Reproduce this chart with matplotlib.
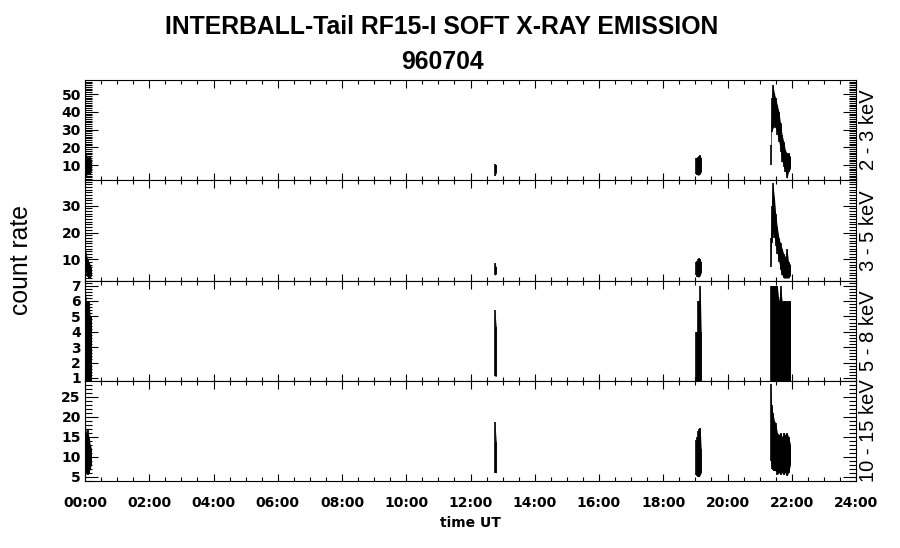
"""INTERBALL-Tail RF15-I soft X-ray count rates, 1996-07-04."""

from __future__ import annotations

import matplotlib

matplotlib.use("Agg")
from matplotlib import pyplot as plt
from matplotlib.ticker import FuncFormatter, MultipleLocator

BAND_LABELS = ["2 - 3 keV", "3 - 5 keV", "5 - 8 keV", "10 - 15 keV"]
Y_LIMITS = [(1.55, 57.9), (1.9, 39.6), (0.8, 7.3), (3.9, 28.9)]
Y_MAJOR = [10, 10, 1, 5]
Y_MINOR = [1, 1, 0.2, 1]

# time UT (hours) of the four bursts of data
t_start = [0.00, 0.04, 0.08, 0.12, 0.16, 0.20]
t_spike = [12.76, 12.80]
t_mid = [19.03, 19.06, 19.09, 19.12, 19.15, 19.18]
t_late = [21.34, 21.37, 21.41, 21.46, 21.50, 21.55, 21.60,
          21.65, 21.70, 21.75, 21.80, 21.85, 21.90, 21.96]

# 2 - 3 keV envelope (low / high count rate)
lo_23_start = [5, 4, 5, 6, 5, 7]
hi_23_start = [17.5, 15.5, 14.5, 13.5, 14.5, 12.8]
lo_23_spike = [4, 5.5]
hi_23_spike = [10.5, 10]
lo_23_mid = [5, 4.5, 4.2, 4.5, 5, 6]
hi_23_mid = [13.8, 14.2, 14.7, 15.2, 15.6, 13.8]
lo_23_late = [10, 28.8, 30.7, 31.6, 30.7, 26.9, 23.2, 17.5, 11.9, 9.1, 6.2, 2.5, 6.2, 8.1]
hi_23_late = [21.3, 47.6, 55.1, 50.4, 47.6, 43.8, 40.1, 33.5, 26.9, 23.2, 18.5, 16.6, 16.6, 14.7]

# 3 - 5 keV
lo_35_start = [5, 4, 3.5, 3, 3, 4]
hi_35_start = [15, 12, 10, 9, 8, 7]
lo_35_spike = [4, 4.5]
hi_35_spike = [8.6, 7]
lo_35_mid = [4, 3.5, 3.4, 3.5, 4, 5]
hi_35_mid = [9, 9.5, 10, 10.5, 10, 9]
lo_35_late = [7, 16, 20, 18, 15, 12, 9, 6, 4, 3, 3, 3, 3, 4]
hi_35_late = [18, 30, 38.4, 33, 27, 22, 18, 16, 14, 12, 11, 14, 9, 8]

# 5 - 8 keV
lo_58_start = [0.8, 0.8, 0.8, 0.8, 0.8, 0.8]
hi_58_start = [7, 6, 6, 6, 5, 5]
lo_58_spike = [1.1, 1.1]
hi_58_spike = [5.4, 4.3]
lo_58_mid = [0.8, 0.8, 0.8, 0.8, 0.8, 0.8]
hi_58_mid = [4, 4, 6, 6, 7, 4]
lo_58_late = [0.8] * 14
hi_58_late = [7, 7, 7, 7, 7, 7, 6, 7, 6, 6, 6, 6, 6, 6]

# 10 - 15 keV
lo_1015_start = [5, 6, 5.5, 6, 7, 8]
hi_1015_start = [18.7, 16, 17, 15, 13, 12]
lo_1015_spike = [6, 6]
hi_1015_spike = [18.7, 13.7]
lo_1015_mid = [5.5, 5.2, 5, 5, 5.4, 6]
hi_1015_mid = [14.2, 15, 16.3, 17, 17.1, 12]
lo_1015_late = [9, 7, 6.7, 6.5, 6.5, 5.5, 6, 5.5, 6, 5.5, 6, 5.2, 6, 8]
hi_1015_late = [28.2, 23, 21, 19, 18.4, 16, 15.5, 16, 15, 16, 15.5, 16, 15, 13]

BANDS = [
    [(t_start, lo_23_start, hi_23_start), (t_spike, lo_23_spike, hi_23_spike),
     (t_mid, lo_23_mid, hi_23_mid), (t_late, lo_23_late, hi_23_late)],
    [(t_start, lo_35_start, hi_35_start), (t_spike, lo_35_spike, hi_35_spike),
     (t_mid, lo_35_mid, hi_35_mid), (t_late, lo_35_late, hi_35_late)],
    [(t_start, lo_58_start, hi_58_start), (t_spike, lo_58_spike, hi_58_spike),
     (t_mid, lo_58_mid, hi_58_mid), (t_late, lo_58_late, hi_58_late)],
    [(t_start, lo_1015_start, hi_1015_start), (t_spike, lo_1015_spike, hi_1015_spike),
     (t_mid, lo_1015_mid, hi_1015_mid), (t_late, lo_1015_late, hi_1015_late)],
]

TICK_FONT = {"family": "DejaVu Sans", "weight": "bold", "size": 10}


def draw_panel(ax, bursts, ylim, major, minor) -> None:
    for t, lo, hi in bursts:
        ax.fill_between(t, lo, hi, color="black", linewidth=0)
        ax.vlines(t, lo, hi, color="black", linewidth=1.2)

    ax.set_xlim(0, 24)
    ax.set_ylim(*ylim)
    ax.xaxis.set_major_locator(MultipleLocator(2))
    ax.xaxis.set_minor_locator(MultipleLocator(0.5))
    ax.yaxis.set_major_locator(MultipleLocator(major))
    ax.yaxis.set_minor_locator(MultipleLocator(minor))
    ax.tick_params(which="both", direction="in", top=True, right=True, width=0.8, color="black")
    ax.tick_params(axis="x", which="major", length=5.4)
    ax.tick_params(axis="x", which="minor", length=2.9)
    ax.tick_params(axis="y", which="major", length=9.4, pad=3)
    ax.tick_params(axis="y", which="minor", length=4.7)
    for spine in ax.spines.values():
        spine.set_linewidth(0.8)
    for label in ax.get_yticklabels():
        label.set_fontproperties(TICK_FONT)


fig = plt.figure(figsize=(9, 5.48), dpi=100)
left, width = 85 / 900, 771 / 900
edges = [80, 180, 281, 381, 481]
axes = []
for i in range(4):
    top, bottom = edges[i], edges[i + 1]
    ax = fig.add_axes([left, 1 - bottom / 548, width, (bottom - top) / 548])
    draw_panel(ax, BANDS[i], Y_LIMITS[i], Y_MAJOR[i], Y_MINOR[i])
    ax.text(1.016, 0.5, BAND_LABELS[i], transform=ax.transAxes, rotation=90,
            ha="center", va="center", fontsize=14.5, family="Liberation Sans")
    if i < 3:
        ax.tick_params(axis="x", labelbottom=False)
    axes.append(ax)

bottom_ax = axes[-1]
bottom_ax.xaxis.set_major_formatter(FuncFormatter(lambda h, _: f"{int(round(h)):02d}:00"))
bottom_ax.tick_params(axis="x", pad=10.8)
for label in bottom_ax.get_xticklabels():
    label.set_fontproperties(TICK_FONT)
bottom_ax.set_xlabel("time UT", fontsize=10, fontweight="bold", family="DejaVu Sans", labelpad=4)

fig.text(442 / 900, 1 - 27 / 548, "INTERBALL-Tail RF15-I SOFT X-RAY EMISSION",
         ha="center", va="center", fontsize=17.8, fontweight="bold", family="Liberation Sans")
fig.text(442 / 900, 1 - 62 / 548, "960704",
         ha="center", va="center", fontsize=17.8, fontweight="bold", family="Liberation Sans")
fig.text(21 / 900, 1 - 260 / 548, "count rate", rotation=90,
         ha="center", va="center", fontsize=17.8, family="Liberation Sans")

fig.savefig("out.png", dpi=100)
